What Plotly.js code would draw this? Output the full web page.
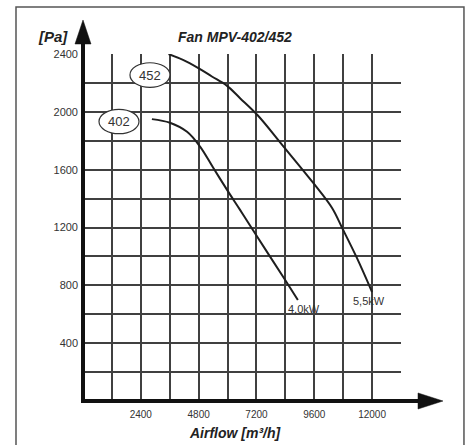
<!DOCTYPE html>
<html>
<head>
<meta charset="utf-8">
<script src="https://cdn.plot.ly/plotly-3.0.1.min.js"></script>
<style>html,body{margin:0;padding:0;background:#fff;}#chart{width:469px;height:445px;}</style>
</head>
<body>
<div id="chart"></div>
<script>
// Fan curves (Airflow m3/h, Pressure Pa)
const fan452_x = [3550, 4150, 4770, 5350, 5980, 6520, 7260, 8300, 9550, 10340, 10750, 11370, 12000];
const fan452_y = [2400, 2360, 2305, 2245, 2180, 2095, 1975, 1765, 1510, 1335, 1200, 990, 754];
const fan402_x = [2860, 3610, 4320, 4860, 5400, 6020, 6520, 7140, 8380, 8920];
const fan402_y = [1950, 1925, 1862, 1760, 1615, 1450, 1322, 1160, 840, 699];

const seriesNames = ["452", "402"];
const powerLabels = ["5,5kW", "4,0kW"];

const xMajorTicks = [2400, 4800, 7200, 9600, 12000];
const xMajorText = ["2400", "4800", "7200", "9600", "12000"];
const xGridStep = 1200;
const yMajorTicks = [400, 800, 1200, 1600, 2000, 2400];
const yMajorText = ["400", "800", "1200", "1600", "2000", "2400"];
const yGridStep = 200;

const FONT = "Liberation Sans, Arial, sans-serif";
const lineStyle = {color: "#1e1e1e", width: 2, shape: "spline", smoothing: 1};
const GRID = "#404040";
const GW = 2;

const traces = [
  {x: fan452_x, y: fan452_y, mode: "lines", line: lineStyle, name: seriesNames[0], hoverinfo: "skip"},
  {x: fan402_x, y: fan402_y, mode: "lines", line: lineStyle, name: seriesNames[1], hoverinfo: "skip"}
];

const last = a => a[a.length - 1];

const layout = {
  width: 469, height: 445,
  margin: {l: 83, r: 68, t: 54, b: 44},
  paper_bgcolor: "#fff", plot_bgcolor: "#fff",
  showlegend: false,
  font: {family: FONT, color: "#333"},
  xaxis: {
    range: [0, 13201], showline: false, zeroline: false,
    showgrid: true, gridcolor: GRID, gridwidth: GW,
    tickvals: xMajorTicks, ticktext: xMajorText, ticks: "",
    ticklabelstandoff: 6,
    minor: {tick0: 0, dtick: xGridStep, showgrid: true, gridcolor: GRID, gridwidth: GW, ticks: ""},
    tickfont: {size: 10, color: "#333", family: FONT}, fixedrange: true
  },
  yaxis: {
    range: [0, 2400.5], showline: false, zeroline: false,
    showgrid: true, gridcolor: GRID, gridwidth: GW,
    tickvals: yMajorTicks, ticktext: yMajorText, ticks: "",
    ticklabelstandoff: 4,
    minor: {tick0: 0, dtick: yGridStep, showgrid: true, gridcolor: GRID, gridwidth: GW, ticks: ""},
    tickfont: {size: 11, color: "#333", family: FONT}, fixedrange: true
  },
  shapes: [
    // outer frame
    {type: "rect", xref: "paper", yref: "paper", x0: -0.2107, x1: 1.198, y0: -0.16, y1: 1.1354,
     line: {color: "#555", width: 1.5}, layer: "below"},
    // y axis line + arrow
    {type: "line", xref: "paper", yref: "paper", x0: 0, x1: 0, y0: -0.006, y1: 1.03,
     line: {color: "#111", width: 4}, layer: "above"},
    {type: "path", xref: "paper", yref: "paper", path: "M -0.0252 1.0288 L 0.0252 1.0288 L 0 1.098 Z",
     fillcolor: "#111", line: {color: "#111", width: 0.5}, layer: "above"},
    // x axis line + arrow
    {type: "line", xref: "paper", yref: "paper", x0: -0.006, x1: 1.056, y0: 0, y1: 0,
     line: {color: "#111", width: 4}, layer: "above"},
    {type: "path", xref: "paper", yref: "paper", path: "M 1.0535 -0.0231 L 1.0535 0.0231 L 1.132 0 Z",
     fillcolor: "#111", line: {color: "#111", width: 0.5}, layer: "above"},
    // ellipses around series names
    {type: "circle", xref: "x", yref: "y", x0: 1950, x1: 3610, y0: 2170, y1: 2340,
     fillcolor: "#fff", line: {color: "#333", width: 1.2}, layer: "above"},
    {type: "circle", xref: "x", yref: "y", x0: 664, x1: 2324, y0: 1849, y1: 2018,
     fillcolor: "#fff", line: {color: "#333", width: 1.2}, layer: "above"}
  ],
  annotations: [
    {text: "<b><i>Fan MPV-402/452</i></b>", xref: "paper", yref: "paper", x: 0.479, y: 1.049,
     xanchor: "center", yanchor: "middle",
     showarrow: false, font: {size: 14, color: "#222", family: FONT}},
    {text: "<b><i>[Pa]</i></b>", xref: "paper", yref: "paper", x: -0.094, y: 1.049,
     xanchor: "center", yanchor: "middle",
     showarrow: false, font: {size: 15, color: "#222", family: FONT}},
    {text: "<b><i>Airflow [m³/h]</i></b>", xref: "paper", yref: "paper", x: 0.478, y: -0.092,
     xanchor: "center", yanchor: "middle",
     showarrow: false, font: {size: 14, color: "#222", family: FONT}},
    {text: seriesNames[0], xref: "x", yref: "y", x: 2781, y: 2255, showarrow: false,
     xanchor: "center", yanchor: "middle",
     font: {size: 13, color: "#333", family: FONT}},
    {text: seriesNames[1], xref: "x", yref: "y", x: 1494, y: 1933, showarrow: false,
     xanchor: "center", yanchor: "middle",
     font: {size: 13, color: "#333", family: FONT}},
    {text: powerLabels[1], xref: "x", yref: "y", x: last(fan402_x) + 270, y: last(fan402_y) - 63,
     xanchor: "center", yanchor: "middle",
     showarrow: false, font: {size: 11, color: "#333", family: FONT}},
    {text: powerLabels[0], xref: "x", yref: "y", x: last(fan452_x) - 130, y: last(fan452_y) - 62,
     xanchor: "center", yanchor: "middle",
     showarrow: false, font: {size: 11, color: "#333", family: FONT}}
  ]
};

Plotly.newPlot("chart", traces, layout, {staticPlot: true, displayModeBar: false});
</script>
</body>
</html>
